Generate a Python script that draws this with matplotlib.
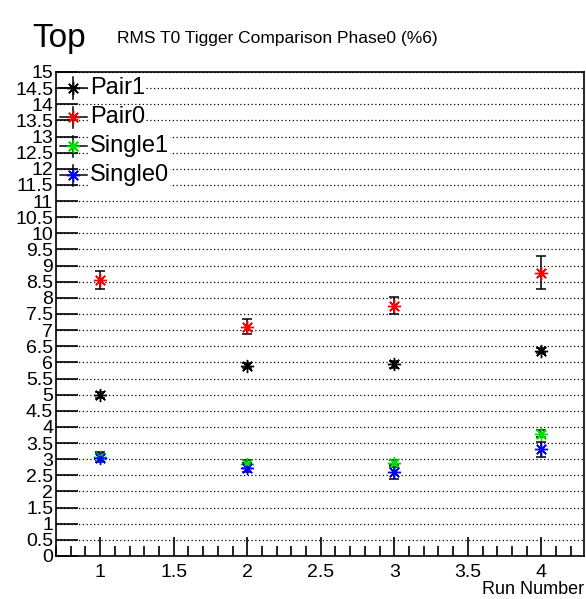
import matplotlib
matplotlib.use("Agg")
import matplotlib.pyplot as plt
import numpy as np

plt.rcParams['font.family'] = ['Liberation Sans', 'DejaVu Sans']

runs = [1, 2, 3, 4]
series_names = ["Pair1", "Pair0", "Single1", "Single0"]
series_colors = ["black", "red", "#00e000", "blue"]
pair1 = [4.98, 5.90, 5.94, 6.36]
pair1_err = [0.09, 0.08, 0.10, 0.08]
pair0 = [8.55, 7.11, 7.76, 8.78]
pair0_err = [0.29, 0.23, 0.26, 0.52]
single1 = [3.08, 2.85, 2.87, 3.79]
single1_err = [0.13, 0.13, 0.10, 0.10]
single0 = [3.05, 2.74, 2.61, 3.31]
single0_err = [0.15, 0.15, 0.22, 0.23]

yticks = np.arange(0, 15.01, 0.5)
ytick_labels = [("%g" % v) for v in yticks]
xticks = [1, 1.5, 2, 2.5, 3, 3.5, 4]
xtick_labels = ["1", "1.5", "2", "2.5", "3", "3.5", "4"]

fig = plt.figure(figsize=(5.86, 5.99), dpi=100)
ax = fig.add_axes([0.0956, 0.0718, 0.9010, 0.8080])

marker = (8, 2, 0)
all_vals = [pair1, pair0, single1, single0]
all_errs = [pair1_err, pair0_err, single1_err, single0_err]
for vals, errs, col in zip(all_vals, all_errs, series_colors):
    ax.errorbar(runs, vals, yerr=errs, fmt='none', ecolor='black',
                elinewidth=1.1, capsize=3.5, capthick=1.1, zorder=3)
    ax.plot(runs, vals, linestyle='none', marker=marker, markersize=9.5,
            markeredgecolor=col, markeredgewidth=1.0, zorder=4)
    ax.plot(runs, vals, linestyle='none', marker='o', markersize=3,
            color=col, zorder=5)

ax.set_xlim(0.7, 4.29)
ax.set_ylim(0, 15)
ax.set_yticks(yticks)
ax.set_yticklabels(ytick_labels)
ax.set_xticks(xticks)
ax.set_xticklabels(xtick_labels)
ax.set_xticks(np.arange(0.7, 4.3, 0.1), minor=True)
ax.yaxis.grid(True, linestyle=(0, (1, 2)), color='black', linewidth=0.9)
ax.tick_params(axis='y', direction='in', length=16, width=1.2, pad=2, labelsize=14)
ax.tick_params(axis='x', which='major', direction='in', length=14, width=1.2, pad=6, labelsize=14)
ax.tick_params(axis='x', which='minor', direction='in', length=7, width=1.2)
for sp in ax.spines.values():
    sp.set_linewidth(1.2)

ax.set_xlabel("Run Number", fontsize=13, loc='right', labelpad=0)

# legend (manual, ROOT style)
leg_y = [14.5, 13.6, 12.7, 11.8]
for name, col, yy in zip(series_names, series_colors, leg_y):
    xm = 0.032
    ax.plot([0.008, 0.058], [yy, yy], color='black', lw=1.1,
            transform=ax.get_yaxis_transform(), zorder=6, clip_on=False)
    ax.plot([xm, xm], [yy - 0.33, yy + 0.33], color='black', lw=1.1,
            transform=ax.get_yaxis_transform(), zorder=6)
    ax.plot([xm], [yy], marker=marker, markersize=9.5, markeredgecolor=col,
            markeredgewidth=1.0, linestyle='none',
            transform=ax.get_yaxis_transform(), zorder=7)
    ax.text(0.064, yy, name, fontsize=17, va='center', ha='left',
            transform=ax.get_yaxis_transform(), zorder=7,
            bbox=dict(facecolor='white', edgecolor='none', pad=0.5))

fig.text(0.055, 0.935, "Top", fontsize=24, va='center', ha='left')
fig.text(0.2, 0.935, "RMS T0 Tigger Comparison Phase0 (%6)", fontsize=12.5,
         va='center', ha='left')

fig.savefig("out.png", dpi=100)
